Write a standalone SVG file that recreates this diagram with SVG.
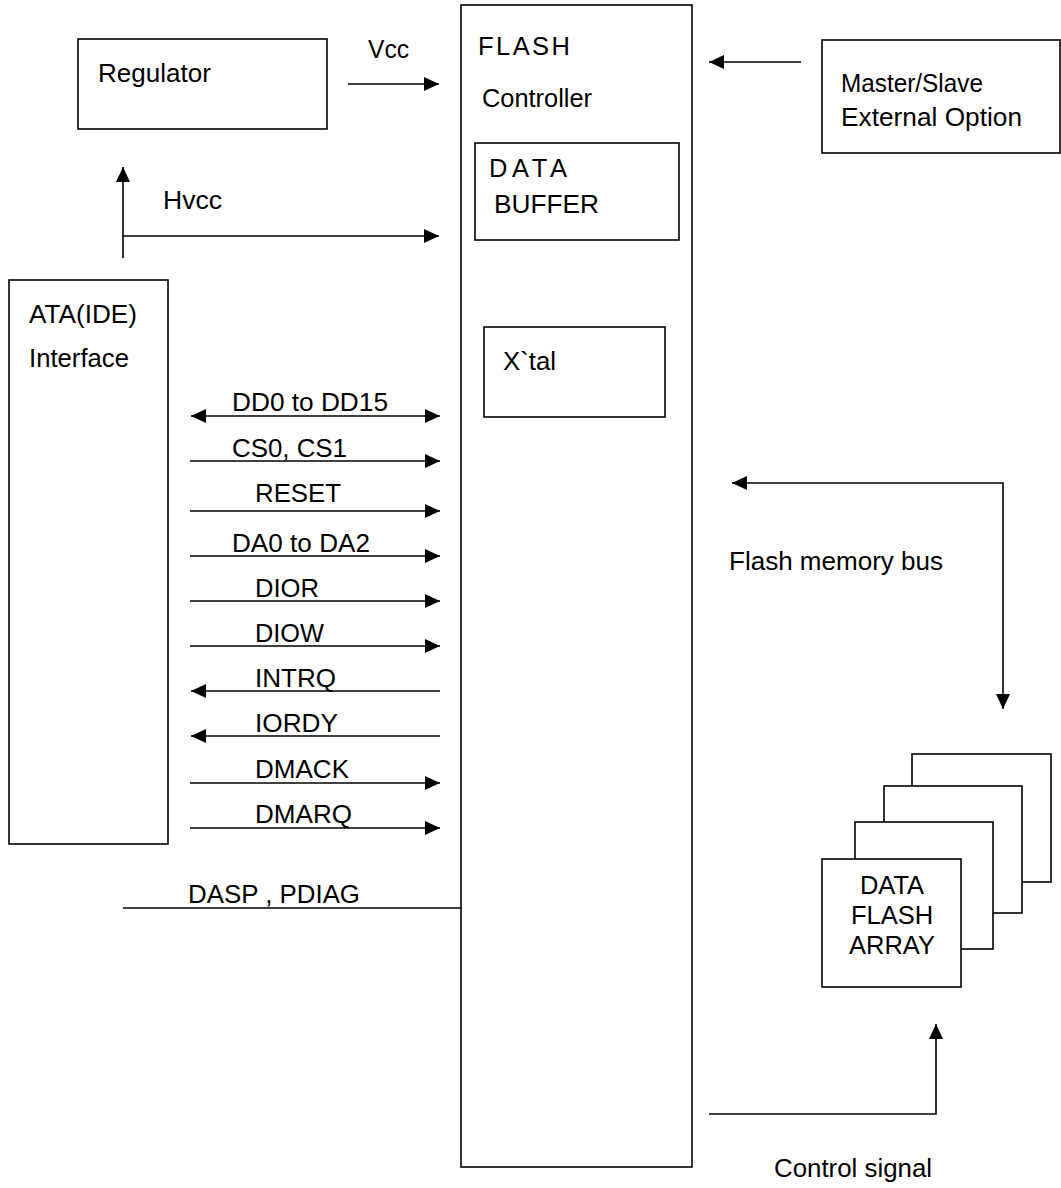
<svg xmlns="http://www.w3.org/2000/svg" width="1061" height="1188" viewBox="0 0 1061 1188">
<style>
.box{fill:#fff;stroke:#000;stroke-width:1.6}
.ln{fill:none;stroke:#000;stroke-width:1.6}
.ar{marker-end:url(#ah)}
.t{font-family:"Liberation Sans",Arial,sans-serif;font-size:25.5px;fill:#000}
.c{text-anchor:middle}
</style>
<defs>
<marker id="ah" markerUnits="userSpaceOnUse" markerWidth="15" markerHeight="14" refX="15" refY="7" orient="auto-start-reverse">
<path d="M0,0 L15,7 L0,14 z" fill="#000"/>
</marker>
</defs>
<rect width="1061" height="1188" fill="#fff"/>
<g id="regulator">
<rect class="box" x="78" y="39" width="249" height="90"/>
<text class="t" x="98" y="82" textLength="113" lengthAdjust="spacingAndGlyphs">Regulator</text>
</g>
<g id="flash-controller">
<rect class="box" x="461" y="5" width="231" height="1162"/>
<text class="t" x="478" y="55" textLength="92">FLASH</text>
<text class="t" x="482" y="107" textLength="110" lengthAdjust="spacingAndGlyphs">Controller</text>
</g>
<g id="data-buffer">
<rect class="box" x="475" y="143" width="204" height="97"/>
<text class="t" x="489" y="177" textLength="78">DATA</text>
<text class="t" x="494" y="213" textLength="105" lengthAdjust="spacingAndGlyphs">BUFFER</text>
</g>
<g id="xtal">
<rect class="box" x="484" y="327" width="181" height="90"/>
<text class="t" x="503" y="370" textLength="53" lengthAdjust="spacingAndGlyphs">X`tal</text>
</g>
<g id="master-slave">
<rect class="box" x="822" y="40" width="238" height="113"/>
<text class="t" x="841" y="92" textLength="142" lengthAdjust="spacingAndGlyphs">Master/Slave</text>
<text class="t" x="841" y="126" textLength="181" lengthAdjust="spacingAndGlyphs">External Option</text>
</g>
<g id="ata-interface">
<rect class="box" x="9" y="280" width="159" height="564"/>
<text class="t" x="29" y="323" textLength="108" lengthAdjust="spacingAndGlyphs">ATA(IDE)</text>
<text class="t" x="29" y="367" textLength="100" lengthAdjust="spacingAndGlyphs">Interface</text>
</g>
<g id="flash-array">
<rect class="box" x="912" y="754" width="139" height="128"/>
<rect class="box" x="884" y="786" width="138" height="127"/>
<rect class="box" x="855" y="822" width="138" height="127"/>
<rect class="box" x="822" y="859" width="139" height="128"/>
<text class="t c" x="892" y="894">DATA</text>
<text class="t c" x="892" y="924">FLASH</text>
<text class="t c" x="892" y="954">ARRAY</text>
</g>
<g id="connectors">
<line class="ln ar" x1="348" y1="84" x2="439" y2="84"/>
<line class="ln ar" x1="123" y1="258" x2="123" y2="167"/>
<line class="ln ar" x1="123" y1="236" x2="439" y2="236"/>
<line class="ln ar" x1="801" y1="62" x2="709" y2="62"/>
<line class="ln ar" x1="191" y1="416" x2="440" y2="416" marker-start="url(#ah)"/>
<line class="ln ar" x1="190" y1="461" x2="440" y2="461"/>
<line class="ln ar" x1="190" y1="511" x2="440" y2="511"/>
<line class="ln ar" x1="190" y1="556" x2="440" y2="556"/>
<line class="ln ar" x1="190" y1="601" x2="440" y2="601"/>
<line class="ln ar" x1="190" y1="646" x2="440" y2="646"/>
<line class="ln ar" x1="440" y1="691" x2="191" y2="691"/>
<line class="ln ar" x1="440" y1="736" x2="191" y2="736"/>
<line class="ln ar" x1="190" y1="783" x2="440" y2="783"/>
<line class="ln ar" x1="190" y1="828" x2="440" y2="828"/>
<path class="ln ar" d="M732,483 L1003,483 L1003,709" marker-start="url(#ah)"/>
<line class="ln" x1="123" y1="908" x2="461" y2="908"/>
<path class="ln ar" d="M709,1114 L936,1114 L936,1024"/>
</g>
<g id="labels">
<text class="t" x="368" y="58" textLength="41" lengthAdjust="spacingAndGlyphs">Vcc</text>
<text class="t" x="163" y="209" textLength="59" lengthAdjust="spacingAndGlyphs">Hvcc</text>
<text class="t" x="232" y="411" textLength="156" lengthAdjust="spacingAndGlyphs">DD0 to DD15</text>
<text class="t" x="232" y="457" textLength="115" lengthAdjust="spacingAndGlyphs">CS0, CS1</text>
<text class="t" x="255" y="502" textLength="86" lengthAdjust="spacingAndGlyphs">RESET</text>
<text class="t" x="232" y="552" textLength="138" lengthAdjust="spacingAndGlyphs">DA0 to DA2</text>
<text class="t" x="255" y="597" textLength="64" lengthAdjust="spacingAndGlyphs">DIOR</text>
<text class="t" x="255" y="642" textLength="69" lengthAdjust="spacingAndGlyphs">DIOW</text>
<text class="t" x="255" y="687" textLength="81" lengthAdjust="spacingAndGlyphs">INTRQ</text>
<text class="t" x="255" y="732" textLength="83" lengthAdjust="spacingAndGlyphs">IORDY</text>
<text class="t" x="255" y="778" textLength="94" lengthAdjust="spacingAndGlyphs">DMACK</text>
<text class="t" x="255" y="823" textLength="97" lengthAdjust="spacingAndGlyphs">DMARQ</text>
<text class="t" x="729" y="570" textLength="214" lengthAdjust="spacingAndGlyphs">Flash memory bus</text>
<text class="t" x="188" y="903" textLength="172" lengthAdjust="spacingAndGlyphs">DASP , PDIAG</text>
<text class="t" x="774" y="1177" textLength="158" lengthAdjust="spacingAndGlyphs">Control signal</text>
</g>
</svg>
